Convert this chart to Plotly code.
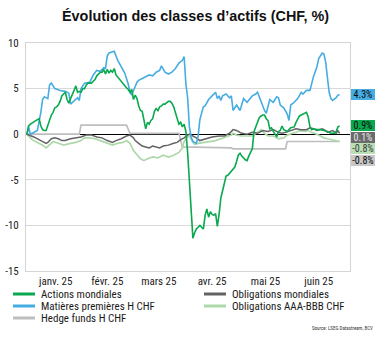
import pandas as pd
import plotly.graph_objects as go

# Cumulative performance since 31.12.2024 (in %), sampled by day offset
BASE_DATE = pd.Timestamp("2024-12-31")

actions_days = [0, 1, 2, 4, 6, 7, 8, 9, 10, 11, 12, 13, 14, 15, 16, 17, 18, 19, 20, 21, 22, 23, 24, 25,
                26, 27, 28, 29, 30, 31, 32, 33, 34, 35, 36, 37, 38, 39, 40, 41, 42, 43, 44, 45, 46, 47,
                48, 49, 50, 51, 53, 55, 57, 58, 59, 60, 61, 62, 63, 64, 65, 66, 67, 68, 69, 70, 71, 72,
                73, 74, 75, 76, 77, 78, 79, 81, 82, 83, 84, 85, 86, 87, 88, 89, 90, 91, 92, 93, 94, 95,
                96, 97, 98, 99, 100, 101, 102, 103, 104, 105, 106, 107, 108, 109, 110, 111, 112, 113,
                114, 115, 116, 118, 119, 120, 121, 122, 123, 125, 126, 127, 128, 129, 130, 131, 132,
                133, 134, 135, 136, 137, 138, 139, 140, 141, 143, 144, 145, 146, 147, 149, 150, 151,
                153, 154, 156, 158, 160, 161, 162, 163, 164, 166, 168, 170, 172, 174, 176, 177, 178, 179]
actions_vals = [0.0, 0.9, 1.1, 1.4, 1.6, 1.7, 0.9, 0.5, 0.4, 0.4, 1.0, 1.5, 2.1, 2.4, 2.9, 3.0, 3.2, 3.6,
                4.2, 4.4, 4.6, 3.8, 3.4, 3.9, 4.3, 4.8, 5.3, 4.6, 4.7, 4.6, 5.0, 5.0, 5.4, 5.6, 5.6, 5.6,
                5.8, 6.0, 6.4, 6.6, 6.8, 6.8, 7.1, 6.6, 7.1, 6.7, 7.0, 6.8, 7.2, 6.5, 6.0, 5.6, 5.1, 4.9,
                4.6, 4.9, 3.8, 4.3, 3.9, 3.1, 2.6, 2.5, 1.5, 0.6, 1.3, 1.1, 1.5, 1.7, 2.5, 2.8, 2.6, 3.0,
                3.1, 3.3, 3.3, 3.6, 3.6, 3.4, 3.0, 2.3, 1.7, 1.1, 1.3, 0.8, 1.1, 0.3, -2.0, -5.0, -8.5,
                -11.4, -10.8, -10.4, -10.2, -10.0, -10.2, -10.4, -8.9, -8.2, -9.1, -8.5, -8.8, -8.9,
                -8.7, -10.1, -8.8, -7.0, -6.2, -5.2, -4.6, -4.5, -4.3, -3.9, -3.6, -3.0, -2.3, -2.1,
                -2.4, -2.8, -2.9, -2.4, -2.0, -1.6, 0.3, 0.8, 1.2, 1.8, 2.0, 2.1, 2.1, 1.7, 1.5, 0.6,
                0.7, 0.3, -0.3, 0.3, 0.4, 0.9, 0.5, 0.3, 0.5, 0.7, 0.8, 1.3, 2.0, 2.2, 2.4, 1.9, 0.8,
                0.5, 0.6, 0.5, 0.5, 0.4, 0.3, 0.1, 0.1, 0.3, 0.8, 0.9]

matieres_days = [0, 1, 2, 4, 6, 8, 9, 10, 12, 13, 14, 16, 19, 22, 24, 25, 27, 29, 30, 31, 33, 36, 38, 40,
                 42, 44, 45, 46, 47, 49, 50, 52, 54, 56, 58, 59, 60, 61, 62, 63, 64, 66, 68, 70, 72, 74,
                 76, 77, 79, 81, 83, 85, 87, 89, 90, 91, 92, 93, 94, 95, 97, 98, 99, 100, 101, 102, 104,
                 106, 108, 109, 110, 111, 112, 114, 116, 117, 118, 120, 122, 124, 126, 129, 131, 132,
                 134, 136, 137, 139, 141, 143, 144, 145, 147, 149, 150, 151, 153, 155, 157, 158, 160,
                 162, 164, 166, 167, 169, 170, 171, 172, 173, 174, 175, 177, 178, 179]
matieres_vals = [0.0, 0.8, 0.0, 0.2, 0.4, 2.4, 3.8, 4.1, 3.9, 5.4, 5.6, 5.0, 4.8, 4.7, 4.5, 3.3, 3.6, 4.0,
                 3.7, 5.0, 5.6, 5.7, 6.5, 7.0, 6.9, 7.3, 7.2, 8.6, 8.9, 9.0, 9.1, 8.1, 7.4, 6.7, 5.5,
                 4.6, 4.3, 4.8, 5.2, 5.7, 5.9, 6.1, 6.3, 6.5, 6.4, 6.8, 7.0, 7.5, 6.8, 6.6, 6.8, 7.2,
                 7.8, 8.1, 8.5, 5.5, 4.0, 0.8, -0.3, -0.8, -1.0, -0.2, 1.6, 2.4, 3.0, 3.1, 3.8, 4.2,
                 4.6, 3.9, 4.2, 3.7, 4.2, 4.4, 4.0, 4.2, 2.6, 3.2, 2.6, 3.9, 3.5, 4.2, 4.4, 4.6, 3.5,
                 2.6, 2.3, 3.8, 3.5, 4.1, 4.0, 3.2, 2.9, 2.2, 1.5, 3.2, 3.5, 3.9, 4.6, 4.4, 4.8, 4.8,
                 6.3, 7.4, 8.3, 8.9, 8.8, 7.9, 6.2, 4.6, 3.9, 3.7, 4.0, 4.3, 4.3]

hedge_days = [0, 30, 31, 57, 59, 87, 89, 117, 118, 148, 149, 179]
hedge_vals = [0.0, 0.0, 1.0, 1.0, 0.1, 0.1, -1.4, -1.5, -1.6, -1.6, -0.8, -0.8]

oblig_days = [0, 4, 8, 10, 11, 12, 14, 16, 18, 20, 22, 25, 28, 31, 34, 37, 40, 43, 46, 49, 51, 54, 57,
              59, 61, 62, 64, 66, 68, 70, 72, 74, 76, 78, 81, 84, 86, 88, 90, 92, 93, 95, 97, 99, 101,
              103, 106, 110, 113, 116, 118, 120, 123, 126, 129, 132, 135, 138, 141, 144, 146, 148, 151,
              154, 157, 160, 162, 164, 166, 169, 171, 172, 175, 177, 178, 179]
oblig_vals = [0.0, -0.3, -0.7, -0.9, -1.0, -0.9, -0.5, -0.4, -0.5, -0.7, -0.7, -0.5, -0.4, -0.3, -0.1,
              -0.1, -0.3, -0.4, -0.7, -0.9, -0.7, -0.5, -0.2, -0.1, -0.4, -0.7, -1.0, -1.3, -1.4, -1.5,
              -1.3, -1.4, -1.5, -1.3, -1.2, -1.0, -0.9, -0.6, -0.4, -0.1, 0.0, -0.2, -0.4, -0.7, -0.6,
              -0.5, -0.3, -0.2, -0.2, 0.1, 0.5, 0.4, 0.1, 0.0, 0.2, 0.1, 0.4, 0.3, 0.5, 0.2, 0.1, 0.2,
              0.4, 0.6, 0.5, 0.5, 0.7, 0.6, 0.4, 0.6, 0.4, 0.2, 0.4, 0.1, 0.4, 0.1]

aaa_days = [0, 3, 6, 9, 11, 12, 15, 18, 21, 25, 28, 31, 33, 36, 39, 42, 45, 49, 52, 55, 57, 59, 61, 63,
            65, 67, 69, 72, 75, 78, 81, 84, 87, 89, 90, 92, 93, 95, 96, 98, 101, 104, 108, 111, 114,
            117, 118, 120, 123, 126, 129, 132, 134, 136, 138, 141, 144, 147, 149, 152, 154, 156, 159,
            161, 163, 166, 168, 170, 172, 174, 176, 179]
aaa_vals = [0.0, -0.6, -0.9, -1.2, -1.5, -1.3, -0.8, -1.0, -1.2, -1.0, -0.9, -0.7, -0.4, -0.4, -0.5,
            -0.7, -0.9, -1.2, -1.0, -0.9, -0.7, -1.0, -1.8, -2.3, -2.7, -2.9, -2.7, -2.5, -2.6, -2.3,
            -2.5, -2.3, -2.0, -1.5, -0.8, -0.3, -0.2, -0.9, -1.1, -1.0, -0.9, -0.8, -0.7, -0.5, -0.3,
            -0.1, 0.1, -0.1, -0.2, -0.2, -0.2, 0.2, 0.5, 0.1, -0.2, -0.2, -0.5, -0.4, -0.1, 0.1, 0.2,
            0.4, 0.3, 0.4, 0.2, 0.0, -0.2, -0.4, -0.5, -0.6, -0.7, -0.8]

series_names = ["Actions mondiales", "Obligations mondiales", "Matières premières H CHF",
                "Obligations AAA-BBB CHF", "Hedge funds H CHF"]
series_days = [actions_days, oblig_days, matieres_days, aaa_days, hedge_days]
series_vals = [actions_vals, oblig_vals, matieres_vals, aaa_vals, hedge_vals]
series_colors = ["#0aa84f", "#636363", "#46ade2", "#aed8aa", "#bebebe"]
series_widths = [1.6, 1.5, 1.6, 1.7, 1.7]
label_text_colors = ["#0a0a0a", "#e6e6e6", "#0a0a0a", "#3a3a3a", "#0a0a0a"]
label_bg_colors = ["#0aa84f", "#6b6b6b", "#46ade2", "#b9dfb4", "#c8c8c8"]

month_labels = ["janv. 25", "févr. 25", "mars 25", "avr. 25", "mai 25", "juin 25"]
month_starts = pd.date_range("2025-01-01", periods=7, freq="MS")

y_ticks = [-15, -10, -5, 0, 5, 10]
y_tick_labels = ["-15", "-10", "-5", "0", "5", "10"]

NARROW = "Liberation Sans Narrow, Arial Narrow, Roboto Condensed, sans-serif"
REGULAR = "Liberation Sans, Arial, sans-serif"

# plot area geometry (pixels) for legend/label placement in paper units
W, H = 382, 339
L, R, T, B = 26, 32, 43, 68
PW, PH = W - L - R, H - T - B


def px_x(px):
    return (px - L) / PW


def px_y(py):
    return (H - B - py) / PH


fig = go.Figure()

# draw order: hedge funds underneath, equities on top
for i in [4, 3, 1, 2, 0]:
    dates = BASE_DATE + pd.to_timedelta(series_days[i], unit="D")
    fig.add_trace(go.Scatter(
        x=dates, y=series_vals[i], mode="lines", name=series_names[i],
        line=dict(color=series_colors[i], width=series_widths[i]),
        showlegend=False, hoverinfo="skip",
    ))

# month labels centred on each month
tick_vals = [month_starts[k] + (month_starts[k + 1] - month_starts[k]) / 2 for k in range(6)]

y_min, y_max = -15, 10
fig.update_layout(
    width=W, height=H,
    margin=dict(l=L, r=R, t=T, b=B, autoexpand=False),
    paper_bgcolor="white", plot_bgcolor="white",
    title=dict(text="Évolution des classes d’actifs (CHF, %)",
               font=dict(family=REGULAR, size=14.4, color="#111111", weight="bold"),
               x=0.512, xanchor="center", y=1 - 16 / H, yanchor="middle", xref="container", yref="container"),
    xaxis=dict(
        type="date", automargin=False,
        range=["2024-12-30 12:00", "2025-07-03 22:00"],
        tickvals=tick_vals, ticktext=month_labels,
        showgrid=False, zeroline=False,
        showline=True, mirror=True, linecolor="#d4d4d4", linewidth=1,
        ticks="", tickfont=dict(family=NARROW, size=11, color="#222222"),
    ),
    yaxis=dict(
        range=[y_min, y_max], automargin=False,
        tickvals=y_ticks, ticktext=y_tick_labels,
        showgrid=True, gridcolor="#d9d9d9", gridwidth=1,
        zeroline=True, zerolinecolor="#000000", zerolinewidth=1,
        showline=True, mirror=True, linecolor="#d4d4d4", linewidth=1,
        ticks="", tickfont=dict(family=NARROW, size=11, color="#222222"),
        ticklabelstandoff=4,
    ),
)

# end-value labels on the right, stacked so they do not overlap
box_h_units = 11.5 * (y_max - y_min) / PH
order = sorted(range(5), key=lambda k: -series_vals[k][-1])
prev = None
for k in order:
    v = series_vals[k][-1]
    pos = v if prev is None else min(v, prev - box_h_units)
    prev = pos
    fig.add_annotation(
        x=1, xref="paper", xanchor="left", xshift=1,
        y=pos, yref="y", yanchor="middle",
        text=f"{v:.1f}%", showarrow=False,
        font=dict(family=NARROW, size=10, color=label_text_colors[k]),
        bgcolor=label_bg_colors[k], width=24, height=11, borderpad=0, borderwidth=0,
    )

# legend in two columns
legend_slots = [(13, 294), (204, 294), (13, 306), (204, 306), (13, 318)]
for k, (lx, ly) in enumerate(legend_slots):
    fig.add_shape(type="line", xref="paper", yref="paper",
                  x0=px_x(lx), x1=px_x(lx + 22), y0=px_y(ly), y1=px_y(ly),
                  line=dict(color=series_colors[k], width=3))
    fig.add_annotation(x=px_x(lx + 26), y=px_y(ly), xref="paper", yref="paper",
                       xanchor="left", yanchor="middle", text=series_names[k], showarrow=False,
                       font=dict(family=NARROW, size=11, color="#1a1a1a"), height=11)

fig.add_annotation(x=px_x(375), y=px_y(328), xref="paper", yref="paper",
                   xanchor="right", yanchor="middle", text="Source: LSEG Datastream, BCV",
                   showarrow=False, font=dict(family=NARROW, size=5, color="#333333"))

fig.write_html("out.html")
